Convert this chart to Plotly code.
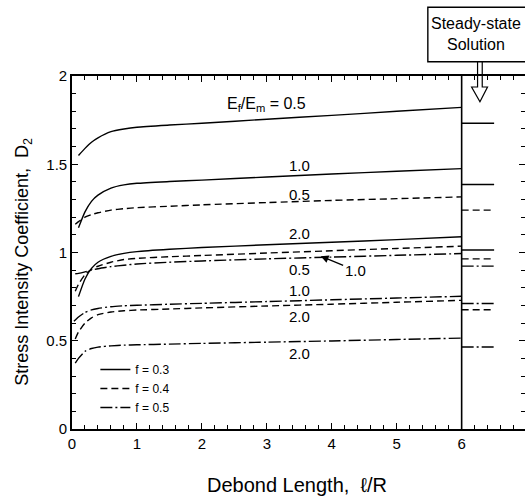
import plotly.graph_objects as go

# ---- data ----
x_e05_f03 = [0.1, 0.2, 0.3, 0.4, 0.6, 0.8, 1.0, 1.5, 2, 3, 4, 5, 6]
d_e05_f03 = [1.55, 1.59, 1.625, 1.65, 1.685, 1.70, 1.71, 1.722, 1.732, 1.755, 1.777, 1.80, 1.822]

x_e10_f03 = [0.1, 0.2, 0.3, 0.4, 0.6, 0.8, 1.0, 1.5, 2, 3, 4, 5, 6]
d_e10_f03 = [1.14, 1.23, 1.29, 1.325, 1.365, 1.383, 1.392, 1.402, 1.41, 1.428, 1.445, 1.46, 1.475]

x_e20_f03 = [0.1, 0.2, 0.3, 0.4, 0.6, 0.8, 1.0, 1.5, 2, 3, 4, 5, 6]
d_e20_f03 = [0.75, 0.85, 0.91, 0.945, 0.978, 0.995, 1.005, 1.018, 1.028, 1.044, 1.058, 1.073, 1.089]

x_e05_f04 = [0.05, 0.1, 0.2, 0.3, 0.4, 0.6, 0.8, 1.0, 1.5, 2, 3, 4, 5, 6]
d_e05_f04 = [1.16, 1.175, 1.2, 1.215, 1.225, 1.24, 1.248, 1.254, 1.262, 1.27, 1.283, 1.295, 1.305, 1.315]

x_e10_f04 = [0.05, 0.1, 0.2, 0.3, 0.4, 0.6, 0.8, 1.0, 1.5, 2, 3, 4, 5, 6]
d_e10_f04 = [0.78, 0.82, 0.875, 0.905, 0.922, 0.945, 0.96, 0.967, 0.976, 0.983, 0.997, 1.01, 1.023, 1.036]

x_e20_f04 = [0.05, 0.1, 0.2, 0.3, 0.4, 0.6, 0.8, 1.0, 1.5, 2, 3, 4, 5, 6]
d_e20_f04 = [0.51, 0.55, 0.60, 0.63, 0.648, 0.663, 0.67, 0.674, 0.68, 0.686, 0.697, 0.707, 0.718, 0.729]

x_e05_f05 = [0.05, 0.1, 0.2, 0.3, 0.4, 0.6, 0.8, 1.0, 1.5, 2, 3, 4, 5, 6]
d_e05_f05 = [0.88, 0.882, 0.89, 0.90, 0.908, 0.92, 0.928, 0.935, 0.945, 0.952, 0.964, 0.974, 0.984, 0.994]

x_e10_f05 = [0.03, 0.1, 0.2, 0.3, 0.4, 0.6, 0.8, 1.0, 1.5, 2, 3, 4, 5, 6]
d_e10_f05 = [0.61, 0.635, 0.66, 0.675, 0.683, 0.693, 0.698, 0.701, 0.707, 0.712, 0.722, 0.732, 0.742, 0.752]

x_e20_f05 = [0.05, 0.1, 0.2, 0.3, 0.4, 0.6, 0.8, 1.0, 1.5, 2, 3, 4, 5, 6]
d_e20_f05 = [0.373, 0.40, 0.44, 0.456, 0.464, 0.471, 0.475, 0.477, 0.481, 0.485, 0.492, 0.499, 0.507, 0.515]

# steady-state solution values (drawn just right of l/R = 6)
steady_x = [6.0, 6.5]
steady_f03 = [1.732, 1.385, 1.014]
steady_f04 = [1.24, 0.964, 0.676]
steady_f05 = [0.923, 0.711, 0.465]

legend_names = ["f = 0.3", "f = 0.4", "f = 0.5"]

x_ticks = [0, 1, 2, 3, 4, 5, 6]
y_ticks = [0, 0.5, 1, 1.5, 2]

# ---- styles ----
FONT = "Liberation Sans, Arial, sans-serif"
SOLID = "solid"
DASH = "7px,4px"
DASHDOT = "12px,3px,2px,3px"
LW = 1.4

# figure slightly wider than the 525 px window so the right frame line sits
# just off-screen while its inward ticks remain visible (as in the reference)
W, H = 527, 500
ML, MT, MB = 71.5, 76, 71
PX_PER_UNIT = 65.3
PW = W - ML
PH = H - MT - MB


def px(xpix):
    return (xpix - ML) / PW


def py(ypix):
    return (H - MB - ypix) / PH


fig = go.Figure()

groups = [
    (legend_names[0], SOLID, [(x_e05_f03, d_e05_f03), (x_e10_f03, d_e10_f03), (x_e20_f03, d_e20_f03)], steady_f03),
    (legend_names[1], DASH, [(x_e05_f04, d_e05_f04), (x_e10_f04, d_e10_f04), (x_e20_f04, d_e20_f04)], steady_f04),
    (legend_names[2], DASHDOT, [(x_e05_f05, d_e05_f05), (x_e10_f05, d_e10_f05), (x_e20_f05, d_e20_f05)], steady_f05),
]

for gi, (name, dash, curves, steady) in enumerate(groups):
    for ci, (xs, ys) in enumerate(curves):
        fig.add_trace(go.Scatter(
            x=xs, y=ys, mode="lines", name=name, legendgroup=name,
            showlegend=(ci == 0), legendrank=gi + 1,
            line=dict(color="black", width=LW, dash=dash, shape="spline", smoothing=0.6),
            hoverinfo="skip"))
    for v in steady:
        fig.add_trace(go.Scatter(
            x=steady_x, y=[v, v], mode="lines", showlegend=False, legendgroup=name,
            line=dict(color="black", width=LW, dash=dash), hoverinfo="skip"))

# vertical separator at l/R = 6
fig.add_shape(type="line", xref="x", yref="y", x0=6, x1=6, y0=0, y1=2,
              line=dict(color="black", width=1.6))

# curve labels
labels = [
    (2.99, 1.84, "E<sub>f</sub>/E<sub>m</sub> = 0.5", 16),
    (3.5, 1.494, "1.0", 15),
    (3.5, 1.33, "0.5", 15),
    (3.5, 1.108, "2.0", 15),
    (3.5, 0.903, "0.5", 15),
    (3.5, 0.784, "1.0", 15),
    (3.5, 0.635, "2.0", 15),
    (3.5, 0.426, "2.0", 15),
]
for lx, ly, t, fs in labels:
    fig.add_annotation(x=lx, y=ly, text=t, showarrow=False, xref="x", yref="y",
                       xanchor="center", yanchor="middle",
                       font=dict(family=FONT, size=fs, color="black"))

fig.add_annotation(x=3.83, y=0.979, xref="x", yref="y", axref="x", ayref="y",
                   ax=4.36, ay=0.90, text="1.0", showarrow=True,
                   arrowhead=2, arrowsize=1.2, arrowwidth=1.3, arrowcolor="black",
                   font=dict(family=FONT, size=15, color="black"))

# steady-state box and arrow (paper coordinates)
fig.add_shape(type="rect", xref="paper", yref="paper", layer="below",
              x0=px(429.3), x1=px(560), y0=py(61.7), y1=py(7.3),
              line=dict(color="black", width=1.4))
fig.add_annotation(xref="paper", yref="paper", x=px(478), y=py(34),
                   xanchor="center", yanchor="middle",
                   text="Steady-state<br>Solution", showarrow=False,
                   font=dict(family=FONT, size=16, color="black"))
sl, sr, hl, hr, tip = px(479.3), px(484.0), px(473.3), px(489.3), px(481.7)
yb, yh, yt = py(61.7), py(87), py(101.7)
fig.add_shape(type="path", xref="paper", yref="paper",
              path=f"M {sl},{yb} L {sl},{yh} L {hl},{yh} L {tip},{yt} L {hr},{yh} L {sr},{yh} L {sr},{yb}",
              line=dict(color="black", width=1.2))

# axis titles
fig.add_annotation(xref="paper", yref="paper", x=px(298), y=py(485),
                   xanchor="center", yanchor="middle",
                   text="Debond Length,  ℓ/R", showarrow=False,
                   font=dict(family=FONT, size=20, color="black"))
fig.add_annotation(xref="paper", yref="paper", x=px(22), y=py(262), textangle=-90,
                   xanchor="center", yanchor="middle",
                   text="Stress Intensity Coefficient,  D<sub>2</sub>", showarrow=False,
                   font=dict(family=FONT, size=18, color="black"))

axis_common = dict(showgrid=False, zeroline=False, showline=True, linecolor="black",
                   linewidth=1.6, ticks="inside", tickcolor="black", tickwidth=1.2,
                   mirror="ticks", tickfont=dict(family=FONT, size=15, color="black"))

fig.update_xaxes(range=[0, PW / PX_PER_UNIT], tickvals=x_ticks, ticklen=6,
                 minor=dict(dtick=0.2, tick0=0, ticks="inside", ticklen=4,
                            tickcolor="black", tickwidth=1.1),
                 **axis_common)
fig.update_yaxes(range=[0, 2], tickvals=y_ticks, ticklen=6,
                 minor=dict(dtick=0.1, tick0=0, ticks="inside", ticklen=4,
                            tickcolor="black", tickwidth=1.1),
                 **axis_common)

fig.update_layout(
    width=W, height=H,
    margin=dict(l=ML, r=0, t=MT, b=MB),
    plot_bgcolor="white", paper_bgcolor="white",
    font=dict(family=FONT, color="black"),
    showlegend=True,
    legend=dict(x=px(95), y=py(355), xanchor="left", yanchor="top",
                bgcolor="rgba(0,0,0,0)", borderwidth=0,
                font=dict(family=FONT, size=12, color="black"),
                tracegroupgap=0, traceorder="normal"),
)

fig.write_html("out.html", config={"displayModeBar": False},
               post_script="document.body.style.margin='0px';document.body.style.overflow='hidden';")
